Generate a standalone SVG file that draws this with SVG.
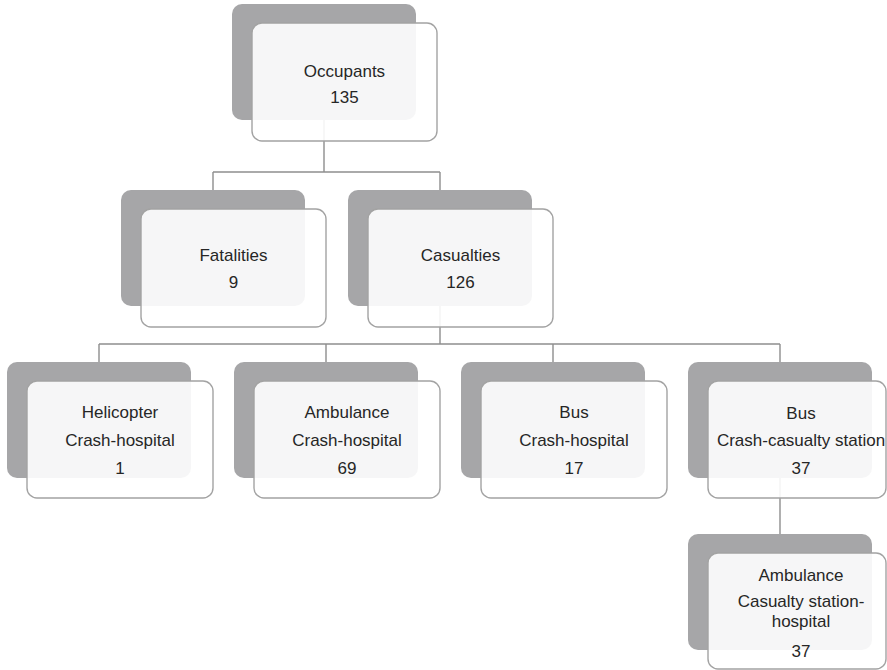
<svg xmlns="http://www.w3.org/2000/svg" width="887" height="670" viewBox="0 0 887 670">
<style>
.bk{fill:#a6a6a8;}
.fr{fill:#ffffff;fill-opacity:0.9;stroke:#a3a3a3;stroke-width:1.4;}
.t{font-family:"Liberation Sans",Arial,sans-serif;font-size:17px;fill:#262626;text-anchor:middle;}
.c{fill:none;stroke:#8e8e8e;stroke-width:1.4;}
</style>
<rect width="887" height="670" fill="#ffffff"/>
<g id="connectors">
<path class="c" d="M324 120 V172 M213 172 H440 M213 172 V190 M440 172 V190"/>
<path class="c" d="M440 306 V344 M99 344 H780 M99 344 V362 M326 344 V362 M553 344 V362 M780 344 V362"/>
<path class="c" d="M780 478 V534"/>
</g>
<g id="occupants">
<rect class="bk" x="232" y="4" width="184" height="116" rx="10"/>
<rect class="fr" x="252" y="23" width="185" height="118" rx="10"/>
<text class="t" x="344.5" y="77">Occupants</text>
<text class="t" x="344.5" y="103">135</text>
</g>
<g id="fatalities">
<rect class="bk" x="121" y="190" width="184" height="116" rx="10"/>
<rect class="fr" x="141" y="209" width="185" height="118" rx="10"/>
<text class="t" x="233.5" y="261">Fatalities</text>
<text class="t" x="233.5" y="288">9</text>
</g>
<g id="casualties">
<rect class="bk" x="348" y="190" width="184" height="116" rx="10"/>
<rect class="fr" x="368" y="209" width="185" height="118" rx="10"/>
<text class="t" x="460.5" y="261">Casualties</text>
<text class="t" x="460.5" y="288">126</text>
</g>
<g id="helicopter">
<rect class="bk" x="7" y="362" width="184" height="116" rx="10"/>
<rect class="fr" x="27" y="381" width="186" height="117" rx="10"/>
<text class="t" x="120" y="418">Helicopter</text>
<text class="t" x="120" y="446">Crash-hospital</text>
<text class="t" x="120" y="474">1</text>
</g>
<g id="ambulance">
<rect class="bk" x="234" y="362" width="184" height="116" rx="10"/>
<rect class="fr" x="254" y="381" width="186" height="117" rx="10"/>
<text class="t" x="347" y="418">Ambulance</text>
<text class="t" x="347" y="446">Crash-hospital</text>
<text class="t" x="347" y="474">69</text>
</g>
<g id="bus">
<rect class="bk" x="461" y="362" width="184" height="116" rx="10"/>
<rect class="fr" x="481" y="381" width="186" height="117" rx="10"/>
<text class="t" x="574" y="418">Bus</text>
<text class="t" x="574" y="446">Crash-hospital</text>
<text class="t" x="574" y="474">17</text>
</g>
<g id="bus-station">
<rect class="bk" x="688" y="362" width="184" height="116" rx="10"/>
<rect class="fr" x="708" y="381" width="178" height="117" rx="10"/>
<text class="t" x="801" y="419">Bus</text>
<text class="t" x="801" y="446">Crash-casualty station</text>
<text class="t" x="801" y="474">37</text>
</g>
<g id="ambulance-station">
<rect class="bk" x="688" y="534" width="184" height="116" rx="10"/>
<rect class="fr" x="708" y="553" width="178" height="116" rx="10"/>
<text class="t" x="801" y="581">Ambulance</text>
<text class="t" x="801" y="607">Casualty station-</text>
<text class="t" x="801" y="627">hospital</text>
<text class="t" x="801" y="657">37</text>
</g>
</svg>
